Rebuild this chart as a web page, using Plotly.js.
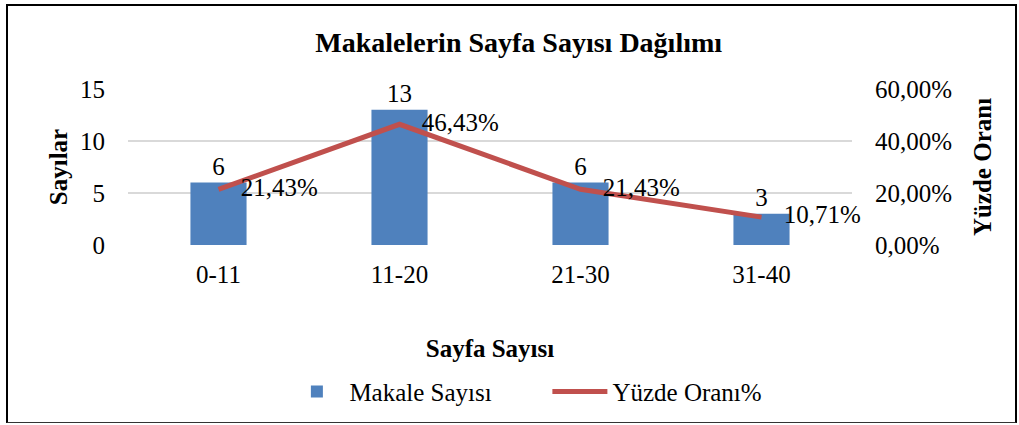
<!DOCTYPE html>
<html>
<head>
<meta charset="utf-8">
<script src="https://cdn.plot.ly/plotly-3.0.1.min.js"></script>
<style>
html,body{margin:0;padding:0;background:#fff;}
#wrap{position:relative;width:1019px;height:425px;}
#chart{position:absolute;left:0;top:0;width:1019px;height:425px;}
#frame{position:absolute;left:6px;top:4px;width:1011px;height:419px;border-left:2.5px solid #000;border-top:2.5px solid #000;border-bottom:1.5px solid #333;border-right:2px solid #000;pointer-events:none;box-sizing:border-box;}
</style>
</head>
<body>
<div id="wrap"><div id="chart"></div><div id="frame"></div></div>
<script>
const categories = ['0-11', '11-20', '21-30', '31-40'];
const makaleSayisi = [6, 13, 6, 3];
const yuzdeOrani = [21.43, 46.43, 21.43, 10.71];
const leftTicks = [0, 5, 10, 15];
const rightTicks = [0, 20, 40, 60];
const rightTickText = ['0,00%', '20,00%', '40,00%', '60,00%'];

const fmtPct = v => v.toFixed(2).replace('.', ',') + '%';
const FONT = 'Liberation Serif, Times New Roman, serif';
const FS = 25;

const bars = {
  type: 'bar',
  name: 'Makale Sayısı',
  x: categories,
  y: makaleSayisi,
  marker: {color: '#4F81BD'},
  text: makaleSayisi.map(String),
  textposition: 'outside',
  textfont: {family: FONT, size: FS, color: '#000'},
  cliponaxis: false,
  yaxis: 'y'
};
const line = {
  type: 'scatter',
  mode: 'lines+markers+text',
  name: 'Yüzde Oranı%',
  x: categories,
  y: yuzdeOrani,
  line: {color: '#C0504D', width: 5},
  marker: {size: 34, color: 'rgba(0,0,0,0)'},
  text: yuzdeOrani.map(fmtPct),
  textposition: 'middle right',
  textfont: {family: FONT, size: FS, color: '#000'},
  cliponaxis: false,
  yaxis: 'y2'
};

const layout = {
  width: 1019, height: 425,
  margin: {l: 128, r: 167, t: 89, b: 180},
  paper_bgcolor: '#fff', plot_bgcolor: '#fff',
  font: {family: FONT, size: FS, color: '#000'},
  title: {text: '<b>Makalelerin Sayfa Sayısı Dağılımı</b>', font: {family: FONT, size: 28, color: '#000'}, x: 0.509, xanchor: 'center', y: 0.9, yanchor: 'middle'},
  bargap: 0.69,
  showlegend: true,
  legend: {orientation: 'h', x: 0.216, xanchor: 'left', y: 0.078, yref: 'container', yanchor: 'middle', font: {family: FONT, size: FS, color: '#000'}, itemwidth: 55, entrywidth: 193, entrywidthmode: 'pixels', traceorder: 'normal'},
  xaxis: {
    type: 'category',
    title: {text: '<b>Sayfa Sayısı</b>', font: {family: FONT, size: FS, color: '#000'}, standoff: 52},
    showgrid: false, zeroline: false, showline: false, ticks: '',
    tickfont: {family: FONT, size: FS, color: '#000'},
    ticklabelstandoff: 12
  },
  yaxis: {
    range: [0, 15], tickvals: leftTicks,
    title: {text: '<b>Sayılar</b>', font: {family: FONT, size: FS, color: '#000'}, standoff: 5},
    showgrid: true, gridcolor: '#D9D9D9', gridwidth: 2, zeroline: false, showline: false, ticks: '',
    tickfont: {family: FONT, size: FS, color: '#000'},
    ticklabelstandoff: 22
  },
  yaxis2: {
    overlaying: 'y', side: 'right', range: [0, 60],
    tickvals: rightTicks, ticktext: rightTickText,
    title: {text: '<b>Yüzde Oranı</b>', font: {family: FONT, size: FS, color: '#000'}, standoff: 22},
    showgrid: false, zeroline: false, showline: false, ticks: '',
    tickfont: {family: FONT, size: FS, color: '#000'},
    ticklabelstandoff: 22
  }
};

Plotly.newPlot('chart', [bars, line], layout, {displayModeBar: false, staticPlot: true});
</script>
</body>
</html>
